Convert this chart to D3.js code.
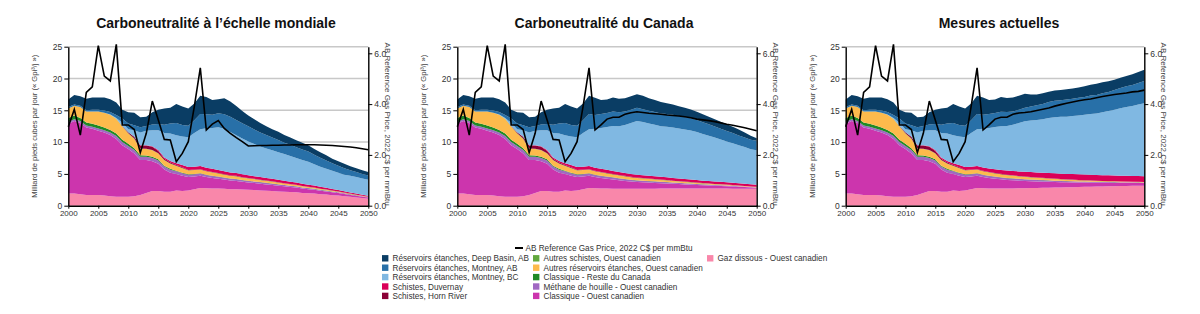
<!DOCTYPE html>
<html>
<head>
<meta charset="utf-8">
<script src="https://cdn.jsdelivr.net/npm/d3@7"></script>
<style>
  body { margin: 0; background: #fff; }
  svg { font-family: "Liberation Sans", Arial, sans-serif; }
</style>
</head>
<body>
<svg id="chart" width="1200" height="314"></svg>
<script>
// ---- data ------------------------------------------------------------
const years = d3.range(2000, 2051);

const keys = [
  'Gaz dissous - Ouest canadien',
  'Classique - Ouest canadien',
  'Méthane de houille - Ouest canadien',
  'Classique - Reste du Canada',
  'Autres réservoirs étanches, Ouest canadien',
  'Autres schistes, Ouest canadien',
  'Schistes, Horn River',
  'Schistes, Duvernay',
  'Réservoirs étanches, Montney, BC',
  'Réservoirs étanches, Montney, AB',
  'Réservoirs étanches, Deep Basin, AB'
];
const colors = ['#f987aa', '#cc35ad', '#a068c2', '#1f8a26', '#fdba4c', '#62a83e',
                '#8b0036', '#da0058', '#80b8e2', '#2870a8', '#0a3d64'];

// historical 2000-2022 (same in all scenarios)
const gazDissousHist = [1.9,1.9,1.8,1.7,1.7,1.7,1.6,1.5,1.4,1.4,1.4,1.5,1.7,2.0,2.3,2.3,2.2,2.2,2.4,2.3,2.4,2.6,2.8];
const classiqueOuestHist = [11.0,11.4,11.2,10.6,10.4,10.1,9.9,9.6,9.1,8.1,7.5,6.7,5.5,5.2,4.7,4.3,3.5,3.0,2.6,2.4,2.1,2.0,1.9];
const methaneHist = [0.3,0.3,0.3,0.3,0.3,0.35,0.35,0.4,0.45,0.5,0.5,0.55,0.5,0.5,0.5,0.5,0.45,0.45,0.4,0.4,0.35,0.35,0.35];
const classiqueResteHist = [0.6,0.6,0.5,0.5,0.5,0.45,0.45,0.4,0.4,0.35,0.35,0.3,0.25,0.2,0.2,0.2,0.15,0.15,0.1,0.1,0.1,0.05,0.05];
const autresReservoirsHist = [1.5,1.5,1.7,1.7,1.9,2.2,2.3,2.4,2.3,2.1,1.6,1.45,1.0,1.0,1.0,0.9,0.85,0.8,0.75,0.7,0.6,0.6,0.55];
const autresSchistesHist = [0,0,0,0,0,0,0,0,0.02,0.03,0.04,0.05,0.05,0.05,0.05,0.05,0.04,0.04,0.04,0.03,0.03,0.03,0.03];
const hornRiverHist = [0,0,0,0,0,0,0,0,0,0.05,0.15,0.3,0.45,0.5,0.5,0.35,0.2,0.15,0.1,0.1,0.05,0.05,0.05];
const duvernayHist = [0,0,0,0,0,0,0,0,0,0,0,0,0.05,0.05,0.1,0.15,0.2,0.25,0.3,0.35,0.45,0.45,0.5];
const montneyBCHist = [0,0,0,0,0,0,0,0.05,0.1,0.5,0.5,1.0,2.0,2.3,2.5,3.1,3.85,4.3,4.4,4.5,4.7,5.3,5.8];
const montneyABHist = [0.2,0.2,0.2,0.2,0.3,0.3,0.35,0.4,0.5,0.7,0.9,0.8,0.85,0.75,0.9,1.0,1.3,1.6,1.9,1.8,1.8,2.0,2.4];
const deepBasinHist = [1.2,1.5,1.5,1.8,1.9,1.9,2.05,2.0,1.95,1.35,1.75,1.95,1.55,1.45,1.95,2.25,2.55,2.45,3.0,2.9,2.7,2.65,2.85];
const priceHist = [3.11,3.79,2.78,4.46,4.68,6.3,5.1,4.91,6.35,3.18,3.18,3.0,2.09,2.85,4.12,3.37,2.61,2.59,1.73,2.06,2.52,3.9,5.43];

// projections 2023-2050, small series shared by all scenarios
const methaneProj = [0.33,0.32,0.3,0.29,0.28,0.27,0.26,0.25,0.24,0.23,0.22,0.21,0.2,0.19,0.18,0.17,0.16,0.15,0.14,0.13,0.12,0.11,0.1,0.09,0.08,0.07,0.06,0.05];
const classiqueResteProj = [0.05,0.05,0.04,0.04,0.04,0.04,0.03,0.03,0.03,0.03,0.03,0.03,0.02,0.02,0.02,0.02,0.02,0.02,0.02,0.02,0.01,0.01,0.01,0.01,0.01,0.01,0.01,0.01];
const autresReservoirsProj = [0.52,0.5,0.48,0.45,0.42,0.4,0.37,0.35,0.33,0.31,0.29,0.27,0.25,0.23,0.21,0.2,0.18,0.16,0.15,0.14,0.13,0.12,0.1,0.09,0.08,0.07,0.06,0.05];
const autresSchistesProj = [0.03,0.03,0.03,0.03,0.03,0.03,0.03,0.03,0.03,0.03,0.03,0.03,0.03,0.02,0.02,0.02,0.02,0.02,0.02,0.02,0.02,0.02,0.02,0.01,0.01,0.01,0.01,0.01];
const hornRiverProj = [0.05,0.05,0.05,0.05,0.05,0.05,0.05,0.05,0.04,0.04,0.04,0.04,0.04,0.03,0.03,0.03,0.03,0.03,0.02,0.02,0.02,0.02,0.02,0.02,0.02,0.02,0.02,0.02];

// Carboneutralité à l'échelle mondiale
const gazDissousMondial = [2.75,2.7,2.7,2.65,2.6,2.6,2.55,2.5,2.45,2.4,2.35,2.3,2.25,2.2,2.15,2.1,2.0,1.95,1.9,1.8,1.75,1.65,1.6,1.5,1.4,1.3,1.2,1.1];
const classiqueOuestMondial = [1.75,1.65,1.55,1.45,1.35,1.3,1.2,1.15,1.1,1.05,1.0,0.95,0.9,0.85,0.8,0.75,0.7,0.65,0.6,0.55,0.5,0.45,0.4,0.35,0.3,0.25,0.22,0.2];
const duvernayMondial = [0.5,0.5,0.48,0.47,0.46,0.45,0.44,0.43,0.42,0.41,0.4,0.39,0.38,0.37,0.36,0.35,0.34,0.33,0.31,0.29,0.27,0.25,0.23,0.21,0.19,0.17,0.15,0.14];
const montneyBCMondial = [6.2,6.4,6.7,6.65,6.35,5.95,5.65,5.3,5.05,4.8,4.65,4.5,4.35,4.2,4.05,3.85,3.75,3.6,3.35,3.15,3.0,2.85,2.7,2.6,2.6,2.6,2.55,2.5];
const montneyABMondial = [2.2,2.1,2.2,2.3,2.4,2.4,2.4,2.4,2.3,2.2,2.1,2.0,1.9,1.8,1.75,1.7,1.65,1.6,1.5,1.4,1.3,1.2,1.1,1.0,0.9,0.8,0.7,0.65];
const deepBasinMondial = [2.7,2.3,2.2,2.5,2.4,2.2,1.9,1.7,1.6,1.5,1.4,1.3,1.3,1.2,1.15,1.1,1.05,1.0,0.9,0.9,0.8,0.7,0.7,0.7,0.6,0.6,0.6,0.55];
const priceMondial = [2.98,3.21,3.35,3.04,2.85,2.68,2.52,2.35,2.36,2.37,2.37,2.38,2.38,2.39,2.39,2.4,2.4,2.4,2.4,2.39,2.38,2.37,2.35,2.33,2.31,2.28,2.24,2.2];

// Carboneutralité du Canada
const gazDissousCanada = [2.75,2.7,2.7,2.68,2.66,2.65,2.65,2.66,2.67,2.68,2.68,2.69,2.7,2.7,2.7,2.7,2.7,2.7,2.7,2.7,2.69,2.69,2.69,2.68,2.68,2.68,2.67,2.67];
const classiqueOuestCanada = [1.75,1.65,1.55,1.45,1.35,1.25,1.15,1.05,1.0,0.95,0.9,0.85,0.8,0.75,0.7,0.65,0.6,0.55,0.5,0.47,0.44,0.41,0.38,0.35,0.3,0.25,0.2,0.15];
const duvernayCanada = [0.5,0.5,0.49,0.48,0.47,0.46,0.45,0.45,0.44,0.44,0.43,0.43,0.42,0.42,0.41,0.41,0.4,0.4,0.39,0.39,0.38,0.38,0.37,0.37,0.36,0.36,0.35,0.35];
const montneyBCCanada = [6.1,6.4,6.75,7.05,7.2,7.55,8.0,8.45,8.4,8.2,8.1,7.95,7.95,7.95,7.85,7.8,7.7,7.55,7.35,7.1,6.9,6.65,6.4,6.2,5.95,5.75,5.5,5.4];
const montneyABCanada = [2.2,2.2,2.2,2.3,2.2,2.1,2.1,2.1,2.0,2.0,2.0,2.0,2.0,2.0,2.0,1.95,1.95,1.9,1.85,1.8,1.75,1.7,1.65,1.6,1.55,1.5,1.5,1.5];
const deepBasinCanada = [2.7,2.2,2.1,2.2,2.1,2.1,2.1,2.1,2.1,2.0,1.9,1.8,1.7,1.6,1.5,1.45,1.35,1.3,1.25,1.2,1.15,1.1,1.05,1.0,0.95,0.8,0.6,0.4];
const priceCanada = [2.98,3.18,3.41,3.48,3.48,3.6,3.66,3.7,3.67,3.64,3.62,3.6,3.57,3.55,3.53,3.5,3.46,3.41,3.38,3.35,3.31,3.26,3.21,3.17,3.12,3.07,3.01,2.95];

// Mesures actuelles
const gazDissousActuelles = [2.75,2.7,2.7,2.7,2.7,2.72,2.74,2.76,2.78,2.8,2.82,2.84,2.86,2.88,2.9,2.92,2.94,2.96,2.98,3.0,3.02,3.04,3.06,3.08,3.1,3.12,3.14,3.15];
const classiqueOuestActuelles = [1.75,1.65,1.55,1.45,1.35,1.27,1.2,1.13,1.07,1.01,0.96,0.91,0.86,0.82,0.78,0.74,0.7,0.67,0.64,0.61,0.58,0.56,0.54,0.52,0.5,0.48,0.46,0.45];
const duvernayActuelles = [0.52,0.55,0.58,0.62,0.65,0.68,0.71,0.74,0.76,0.78,0.8,0.82,0.84,0.85,0.86,0.87,0.88,0.89,0.9,0.9,0.9,0.9,0.9,0.9,0.9,0.9,0.9,0.9];
const montneyBCActuelles = [6.1,6.35,6.65,6.85,7.0,7.25,7.6,7.95,8.1,8.25,8.4,8.65,8.8,8.95,9.0,9.15,9.25,9.4,9.55,9.65,9.9,10.1,10.35,10.6,10.8,11.0,11.25,11.45];
const montneyABActuelles = [2.2,2.2,2.2,2.3,2.2,2.1,2.1,2.1,2.2,2.3,2.4,2.5,2.6,2.6,2.7,2.7,2.8,2.8,2.9,2.9,3.0,3.0,3.1,3.2,3.3,3.3,3.4,3.5];
const deepBasinActuelles = [2.7,2.2,2.1,2.3,2.2,2.2,2.2,2.2,1.9,1.7,1.7,1.6,1.6,1.6,1.6,1.6,1.6,1.7,1.7,1.8,1.7,1.7,1.6,1.6,1.6,1.7,1.7,1.8];
const priceActuelles = [2.98,3.18,3.41,3.48,3.48,3.6,3.65,3.67,3.7,3.75,3.8,3.85,3.92,3.98,4.03,4.08,4.13,4.17,4.2,4.25,4.3,4.34,4.38,4.41,4.44,4.48,4.5,4.55];

const leftTicks = [0, 5, 10, 15, 20, 25];
const rightTicks = [0, 2, 4, 6];
const xTicks = d3.range(2000, 2051, 5);

const priceLabel = 'AB Reference Gas Price, 2022 C$ per mmBtu';
const leftLabel = 'Milliard de pieds cubes par jour (« Gpi³/j »)';

const hist = [gazDissousHist, classiqueOuestHist, methaneHist, classiqueResteHist, autresReservoirsHist,
              autresSchistesHist, hornRiverHist, duvernayHist, montneyBCHist, montneyABHist, deepBasinHist];

const panels = [
  { title: 'Carboneutralité à l’échelle mondiale', left: 68.3, right: 368.3, titleX: 216,
    proj: [gazDissousMondial, classiqueOuestMondial, methaneProj, classiqueResteProj, autresReservoirsProj,
           autresSchistesProj, hornRiverProj, duvernayMondial, montneyBCMondial, montneyABMondial, deepBasinMondial],
    price: priceHist.concat(priceMondial) },
  { title: 'Carboneutralité du Canada', left: 457.3, right: 756.7, titleX: 604,
    proj: [gazDissousCanada, classiqueOuestCanada, methaneProj, classiqueResteProj, autresReservoirsProj,
           autresSchistesProj, hornRiverProj, duvernayCanada, montneyBCCanada, montneyABCanada, deepBasinCanada],
    price: priceHist.concat(priceCanada) },
  { title: 'Mesures actuelles', left: 845.7, right: 1144.3, titleX: 999,
    proj: [gazDissousActuelles, classiqueOuestActuelles, methaneProj, classiqueResteProj, autresReservoirsProj,
           autresSchistesProj, hornRiverProj, duvernayActuelles, montneyBCActuelles, montneyABActuelles, deepBasinActuelles],
    price: priceHist.concat(priceActuelles) }
];

// ---- drawing ---------------------------------------------------------
const svg = d3.select('#chart');
svg.append('rect').attr('width', 1200).attr('height', 314).attr('fill', '#fff');

const plotTop = 46.7, plotBottom = 205.7;

panels.forEach(p => {
  const rows = years.map((yr, i) => {
    const row = { year: yr };
    keys.forEach((k, j) => { row[k] = hist[j].concat(p.proj[j])[i]; });
    return row;
  });

  const x = d3.scaleLinear().domain([2000, 2050]).range([p.left, p.right]);
  const y = d3.scaleLinear().domain([0, 25]).range([plotBottom, plotTop]);
  const yR = d3.scaleLinear().domain([0, 6.26]).range([plotBottom, plotTop]);

  const g = svg.append('g');

  g.append('text')
    .attr('x', p.titleX).attr('y', 28.3)
    .attr('text-anchor', 'middle')
    .attr('font-size', 14).attr('font-weight', 'bold').attr('fill', '#111')
    .text(p.title);

  // grid
  g.selectAll('.grid').data(leftTicks.filter(d => d > 0)).enter()
    .append('line')
    .attr('x1', p.left).attr('x2', p.right)
    .attr('y1', d => y(d)).attr('y2', d => y(d))
    .attr('stroke', '#c8c8c8').attr('stroke-width', 1.5);

  const stack = d3.stack().keys(keys)(rows);
  const area = d3.area()
    .x(d => x(d.data.year))
    .y0(d => y(d[0]))
    .y1(d => y(d[1]));

  g.selectAll('.layer').data(stack).enter()
    .append('path')
    .attr('d', area)
    .attr('fill', (d, i) => colors[i]);

  const line = d3.line()
    .x((d, i) => x(years[i]))
    .y(d => yR(d));
  g.append('path')
    .datum(p.price)
    .attr('d', line)
    .attr('fill', 'none')
    .attr('stroke', '#000')
    .attr('stroke-width', 1.6);

  // axes
  const styleAxis = (sel, size) => {
    sel.select('.domain').attr('stroke', '#000').attr('stroke-width', 1.4);
    sel.selectAll('.tick line').attr('stroke', '#000');
    sel.selectAll('.tick text').attr('fill', '#333').attr('font-size', size)
      .attr('font-family', '"Liberation Sans", Arial, sans-serif');
  };

  g.append('g')
    .attr('transform', `translate(${p.left},0)`)
    .call(d3.axisLeft(y).tickValues(leftTicks).tickSize(4).tickSizeOuter(0).tickPadding(2))
    .call(styleAxis, 8.5);

  g.append('g')
    .attr('transform', `translate(${p.right},0)`)
    .call(d3.axisRight(yR).tickValues(rightTicks).tickSize(4).tickSizeOuter(0).tickPadding(2))
    .call(styleAxis, 8.5);

  g.append('g')
    .attr('transform', `translate(0,${plotBottom})`)
    .call(d3.axisBottom(x).tickValues(xTicks).tickFormat(d3.format('d')).tickSize(3).tickSizeOuter(0).tickPadding(2))
    .call(styleAxis, 8);

  g.append('text')
    .attr('transform', `translate(${p.left - 31},${(plotTop + plotBottom) / 2}) rotate(-90)`)
    .attr('text-anchor', 'middle')
    .attr('font-size', 7.6).attr('fill', '#444')
    .text(leftLabel);

  g.append('text')
    .attr('transform', `translate(${p.right + 16.5},${(plotTop + plotBottom) / 2 - 2}) rotate(90)`)
    .attr('text-anchor', 'middle')
    .attr('font-size', 8).attr('fill', '#444')
    .text(priceLabel);
});

// ---- legend ----------------------------------------------------------
const legend = svg.append('g').attr('font-size', 8.2).attr('fill', '#333');

legend.append('line')
  .attr('x1', 515).attr('x2', 523).attr('y1', 248).attr('y2', 248)
  .attr('stroke', '#000').attr('stroke-width', 2);
legend.append('text').attr('x', 525.5).attr('y', 251).text(priceLabel);

const legendOrder = keys.slice().reverse();
const colX = [382, 533, 707];
const rowY = [258.3, 267.7, 277.1, 286.5, 295.9];
legendOrder.forEach((k, i) => {
  const col = Math.floor(i / 5), row = i % 5;
  const cx = colX[col], cy = rowY[row];
  legend.append('rect')
    .attr('x', cx).attr('y', cy - 3.2).attr('width', 6.4).attr('height', 6.4)
    .attr('fill', colors[keys.indexOf(k)]);
  legend.append('text').attr('x', cx + 10.5).attr('y', cy + 3).text(k);
});
</script>
</body>
</html>
